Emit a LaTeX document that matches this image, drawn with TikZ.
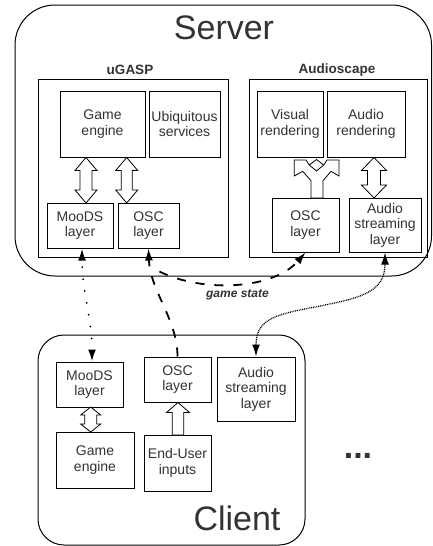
\documentclass[tikz,border=0pt]{standalone}
\usepackage{fontspec}
\setmainfont{Liberation Sans}
\usepackage{tikz}
\usetikzlibrary{shapes,arrows,arrows.meta,positioning}
\definecolor{ink}{RGB}{51, 51, 51}
\tikzstyle{machine} = [draw, line width=1pt, inner sep=0pt]
\tikzstyle{container} = [draw, line width=1pt, inner sep=0pt]
\tikzstyle{block} = [draw, line width=1pt, fill=white, text=ink, align=center, inner sep=0pt, font=\fontsize{14}{15.5}\selectfont]
\tikzstyle{bigtitle} = [text=ink, inner sep=0pt, anchor=base, font=\fontsize{34}{40}\selectfont]
\tikzstyle{grouptitle} = [text=ink, inner sep=0pt, anchor=base, font=\fontsize{13.5}{16}\selectfont\bfseries]
\tikzstyle{flowlabel} = [text=ink, inner sep=0pt, anchor=base, font=\fontsize{12}{14}\selectfont\bfseries\itshape]
\tikzstyle{fatarrow} = [draw, line width=0.8pt, fill=white]
\tikzstyle{tip} = [>={Latex[length=12pt, width=8pt]}]
\tikzstyle{mooslink} = [draw, tip, line width=2pt, line cap=round, dash pattern=on 0pt off 12pt]
\tikzstyle{osclink} = [draw, tip, line width=1.8pt, dash pattern=on 9pt off 10pt]
\tikzstyle{streamlink} = [draw, tip, line width=1.3pt, dash pattern=on 0.9pt off 0.9pt]
% x, top tip, bottom tip, half shaft, half head, head length
\newcommand{\fatdbl}[6]{\draw[fatarrow] (#1,#2) -- ({#1+#5},{#2+#6}) -- ({#1+#4},{#2+#6})
  -- ({#1+#4},{#3-#6}) -- ({#1+#5},{#3-#6}) -- (#1,#3) -- ({#1-#5},{#3-#6})
  -- ({#1-#4},{#3-#6}) -- ({#1-#4},{#2+#6}) -- ({#1-#5},{#2+#6}) -- cycle;}

\begin{document}
\begin{tikzpicture}[x=1pt, y=-1pt]
\useasboundingbox (0,0) rectangle (433,546);

% server ==================================
\node[machine, rounded corners=40pt, minimum width=416.5pt, minimum height=271pt] (server) at (223.25,140.5) {};
\node[bigtitle] (servername) at (224,39.5) {Server};

\node[container, minimum width=190pt, minimum height=178pt] (ugasp) at (133,168) {};
\node[grouptitle] at (130,74) {uGASP};
\node[container, minimum width=178pt, minimum height=178pt] (audioscape) at (338,168) {};
\node[grouptitle] at (337,73) {Audioscape};

% uGASP blocks
\node[block, minimum width=85pt, minimum height=66pt] (sge) at (102.5,124) {Game\\engine};
\node[block, minimum width=71pt, minimum height=66pt, right=3pt of sge] (sus) {Ubiquitous\\services};
\node[block, minimum width=66pt, minimum height=45pt] (smoods) at (80,225.5) {MooDS\\layer};
\node[block, minimum width=61pt, minimum height=45pt, right=4pt of smoods] (sosc) {OSC\\layer};

% Audioscape blocks
\node[block, minimum width=66pt, minimum height=66pt] (vis) at (290,124) {Visual\\rendering};
\node[block, minimum width=78pt, minimum height=66pt, right=3pt of vis] (aud) {Audio\\rendering};
\node[block, minimum width=67pt, minimum height=54pt] (aosc) at (305.5,225) {OSC\\layer};
\node[block, minimum width=72pt, minimum height=54pt] (astream) at (385,225) {Audio\\streaming\\layer};

% fat arrows
\fatdbl{86}{157.5}{203}{6}{11}{13}
\fatdbl{126.7}{157.5}{203}{5.5}{11}{13}
\fatdbl{374}{157.5}{198}{6.5}{12.5}{13}
\draw[fatarrow] (311,198) -- (311,180.7) -- (302.7,171.3) -- (294.3,176) -- (294.3,160)
  -- (306,160) -- (309.3,165) -- (316.5,171) -- (323.7,165) -- (327,160) -- (339,160)
  -- (339,176) -- (331,171.3) -- (323,180.7) -- (323,198) -- cycle;
\draw[line width=0.8pt] (309.3,165) -- (316.5,159.5) -- (323.7,165);

% client ==================================
\node[machine, rounded corners=26pt, minimum width=267pt, minimum height=210pt] (client) at (171.5,440) {};
\node[bigtitle] (clientname) at (237,530) {Client};

\node[block, minimum width=67pt, minimum height=45pt] (cmoods) at (89.5,384.5) {MooDS\\layer};
\node[block, minimum width=78pt, minimum height=56pt] (cge) at (95,460) {Game\\engine};
\node[block, minimum width=67pt, minimum height=45pt] (cosc) at (177.5,379.5) {OSC\\layer};
\node[block, minimum width=67pt, minimum height=56pt] (cinput) at (177.5,463) {End-User\\inputs};
\node[block, minimum width=78pt, minimum height=64pt, right=5pt of cosc.north east, anchor=north west] (cstream) {Audio\\streaming\\layer};

\fatdbl{90.7}{407}{432}{6}{10}{8}
\draw[fatarrow] (178,402.5) -- (189.5,412.5) -- (183.7,412.5) -- (183.7,435)
  -- (172.3,435) -- (172.3,412.5) -- (166.5,412.5) -- cycle;

\node[text=ink, inner sep=0pt, anchor=base, font=\fontsize{34}{40}\selectfont\bfseries] (more) at (358,458) {...};

% links
\path[mooslink, <->] ([xshift=2.5pt]cmoods.north) to[out=90, in=-90] ([xshift=2pt]smoods.south);
\path[osclink, ->] (cosc.north) .. controls +(0,-37) and +(1.5,42) .. coordinate[pos=0.85] (fork) (sosc.south);
\path[osclink, dash phase=9pt, ->] (fork) .. controls +(40,26) and +(-35,40) .. (aosc.south);
\node[flowlabel] (gamestate) at (237.5,297) {game state};
\coordinate (via) at (320,306);
\path[streamlink, <->] (cstream.north) .. controls +(0,-40) and +(-40,8) .. (via)
  .. controls +(40,-8) and +(0,40) .. (astream.south);

\end{tikzpicture}
\end{document}
